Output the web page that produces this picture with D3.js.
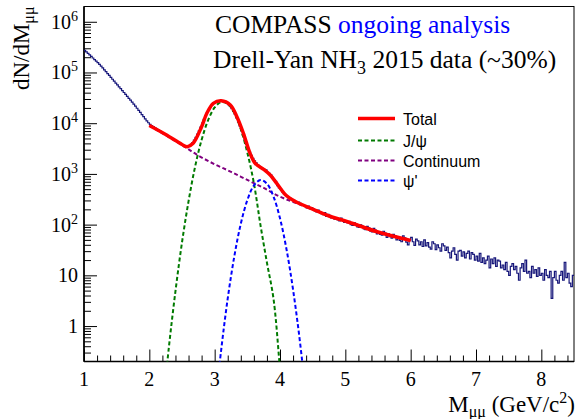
<!DOCTYPE html>
<html lang="en">
<head>
<meta charset="utf-8">
<title>COMPASS Drell-Yan dimuon mass</title>
<script src="https://cdnjs.cloudflare.com/ajax/libs/d3/7.8.5/d3.min.js"></script>
<style>
  body { margin: 0; background: #fff; }
  svg { display: block; }
  .serif { font-family: "Liberation Serif", "Times New Roman", serif; }
  .sans { font-family: "Liberation Sans", Arial, sans-serif; }
</style>
</head>
<body>
<script>
// data histogram, 0.025 GeV bins from 1 GeV
var binStart = 1.0;
var binWidth = 0.025;
var counts = [
  // 1.0 - 2.0
  274000, 255000, 238000, 222000, 207000, 193000, 179000, 167000, 156000, 145000,
  134000, 123000, 113000, 104000, 95300, 87300, 80200, 73500, 67500, 61900,
  56800, 52100, 47900, 43900, 40300, 36900, 33900, 31000, 28500, 26100,
  23800, 21700, 19700, 17900, 16300, 14800, 13500, 12200, 11100, 10200,
  // 2.0 - 3.0
  9520, 8970, 8550, 8160, 7770, 7410, 7060, 6750, 6430, 6140,
  5850, 5580, 5350, 5110, 4880, 4660, 4460, 4260, 4070, 3900,
  3740, 3610, 3500, 3510, 3620, 3830, 4150, 4620, 5270, 6080,
  7100, 8410, 10100, 11950, 14000, 16300, 18600, 20900, 22900, 24600,
  // 3.0 - 4.0
  25800, 26800, 27500, 27700, 27400, 26900, 26100, 24900, 23300, 21500,
  19400, 17100, 14900, 12700, 10600, 8730, 7140, 5810, 4690, 3840,
  3190, 2700, 2310, 2020, 1800, 1660, 1510, 1410, 1300, 1270,
  1230, 1200, 1070, 1030, 960, 857, 773, 710, 590, 530,
  // 4.0 - 5.0
  500, 440, 410, 385, 360, 335, 330, 312, 300, 281,
  268, 279, 262, 240, 245, 236, 214, 232, 205, 216,
  204, 186, 178, 194, 180, 164, 158, 172, 146, 160,
  152, 136, 144, 128, 138, 124, 118, 134, 126, 110,
  // 5.0 - 6.0
  120, 108, 116, 100, 96, 110, 104, 90, 88, 99,
  94, 82, 80, 92, 86, 74, 72, 84, 78, 66,
  73, 64, 62, 74, 68, 56, 66, 58, 54, 64,
  60, 50, 58, 49, 46, 60, 55, 45, 40, 50,
  // 6.0 - 7.0
  56, 46, 39, 52, 48, 40, 46, 37, 50, 38,
  44, 36, 33, 46, 42, 32, 40, 35, 30, 42,
  38, 31, 36, 28, 22, 30, 35, 26, 20, 30,
  31, 24, 29, 22, 27, 30, 21, 28, 26, 20,
  // 7.0 - 8.0
  24, 19, 27, 18, 22, 17, 20, 24, 14, 21,
  17, 22, 15, 20, 19, 14, 16, 13, 18, 12,
  10, 15, 17, 13, 15, 11, 8, 14, 17, 12,
  20, 11, 12, 9, 15, 11, 13, 9.5, 14, 10,
  // 8.0 - 8.5
  11, 8, 13, 10, 9, 12, 3.5, 9, 12, 8,
  7, 10, 12, 8, 18, 9, 11, 7, 6, 10
];

// fit components
var totalX = [2.0, 2.25, 2.5, 2.58, 2.67, 2.8, 2.88, 2.98, 3.1, 3.24, 3.34, 3.44, 3.54, 3.62, 3.75, 3.85, 3.95, 4.1, 4.25, 4.5, 4.75, 5.0, 5.5, 6.0];
var totalY = [9000, 5990, 3800, 3430, 4010, 8530, 15700, 24700, 27700, 22900, 13400, 6320, 2570, 1620, 1230, 950, 653, 370, 279, 203, 148, 118, 71.4, 48.6];

var jpsiX = [2.2, 2.3, 2.4, 2.5, 2.6, 2.7, 2.8, 2.9, 3.0, 3.1, 3.2, 3.3, 3.4, 3.5, 3.6, 3.7, 3.8, 3.9, 4.0, 4.1];
var jpsiY = [0.022, 0.39, 4.9, 44.7, 288, 1380, 4680, 11500, 20400, 26100, 24000, 15900, 7600, 2630, 661, 100, 17.8, 3.5, 0.14, 0.004];

var contX = [2.0, 2.25, 2.5, 2.75, 3.0, 3.25, 3.5, 3.75, 4.0, 4.25, 4.5, 4.75, 5.0, 5.5, 6.0];
var contY = [9000, 5800, 3700, 2300, 1550, 1100, 760, 530, 355, 265, 200, 147, 117, 71, 48.5];

var psi2X = [3.0, 3.1, 3.2, 3.3, 3.4, 3.5, 3.6, 3.7, 3.8, 3.9, 4.0, 4.1, 4.2, 4.3, 4.4];
var psi2Y = [0.022, 0.34, 3.5, 23.4, 104, 304, 590, 758, 641, 359, 133, 32.4, 5.2, 0.56, 0.04];

var xMajor = [1, 2, 3, 4, 5, 6, 7, 8];
var yMajor = [1, 10, 100, 1e3, 1e4, 1e5, 1e6];
var yLabels = ["1", "10", "10|2", "10|3", "10|4", "10|5", "10|6"];

var legendNames = ["Total", "J/\u03c8", "Continuum", "\u03c8'"];
var legendColors = ["#ff0000", "#007a00", "#800080", "#0000ff"];

// frame
var w = 576, h = 419;
var padL = 84, padR = 574, padT = 6.5, padB = 361.5;

var x = d3.scaleLinear().domain([1, 8.5]).range([padL, padR]);
var y = d3.scaleLog().domain([0.2, 2e6]).range([padB, padT]);

var svg = d3.select("body").append("svg")
    .attr("width", w)
    .attr("height", h);

svg.append("defs").append("clipPath")
    .attr("id", "plotclip")
  .append("rect")
    .attr("x", padL).attr("y", padT)
    .attr("width", padR - padL).attr("height", padB - padT);

// frame box
svg.append("rect")
    .attr("x", padL).attr("y", padT)
    .attr("width", padR - padL).attr("height", padB - padT)
    .attr("fill", "none")
    .attr("stroke", "#000")
    .attr("stroke-width", 1);

// ticks (drawn inward, ROOT style)
var xMinor = d3.range(1.2, 8.5, 0.2).filter(function(v) {
    return Math.abs(v - Math.round(v)) > 0.01;
});
var yMinor = [];
[-1, 0, 1, 2, 3, 4, 5].forEach(function(p) {
    for (var k = 2; k <= 9; k++) {
        var v = k * Math.pow(10, p);
        if (v > 0.21 && v < 1.9e6) yMinor.push(v);
    }
});

function tickGroup(axis) {
    var g = svg.append("g").call(axis);
    g.select(".domain").remove();
    g.selectAll("line").attr("stroke", "#000").attr("stroke-width", 1);
    return g;
}

tickGroup(d3.axisBottom(x).tickValues(xMajor).tickSize(-12).tickFormat(""))
    .attr("transform", "translate(0," + padB + ")");
tickGroup(d3.axisBottom(x).tickValues(xMinor).tickSize(-6).tickFormat(""))
    .attr("transform", "translate(0," + padB + ")");
tickGroup(d3.axisLeft(y).tickValues(yMajor).tickSize(-13).tickFormat(""))
    .attr("transform", "translate(" + padL + ",0)");
tickGroup(d3.axisLeft(y).tickValues(yMinor).tickSize(-7).tickFormat(""))
    .attr("transform", "translate(" + padL + ",0)");

// axis lines
svg.append("line").attr("x1", padL).attr("x2", padL).attr("y1", padT).attr("y2", padB)
    .attr("stroke", "#000").attr("stroke-width", 1.6);
svg.append("line").attr("x1", padL).attr("x2", padR).attr("y1", padB).attr("y2", padB)
    .attr("stroke", "#000").attr("stroke-width", 1.6);

// tick labels
svg.selectAll(".xlab")
    .data(xMajor)
  .enter().append("text")
    .attr("class", "serif")
    .attr("x", function(d) { return x(d); })
    .attr("y", 386)
    .attr("text-anchor", "middle")
    .attr("font-size", 20)
    .text(function(d) { return d; });

yMajor.forEach(function(v, i) {
    var parts = yLabels[i].split("|");
    var t = svg.append("text")
        .attr("class", "serif")
        .attr("x", 78)
        .attr("y", y(v) + 7)
        .attr("text-anchor", "end")
        .attr("font-size", 20);
    t.append("tspan").text(parts[0]);
    if (parts.length > 1) {
        t.append("tspan").attr("dy", -8).attr("font-size", 14).text(parts[1]);
    }
});

// axis titles
var yt = svg.append("text")
    .attr("class", "serif")
    .attr("transform", "translate(29," + padT + ") rotate(-90)")
    .attr("text-anchor", "end")
    .attr("font-size", 23);
yt.append("tspan").text("dN/dM");
yt.append("tspan").attr("dy", 5).attr("font-size", 16).text("\u03bc\u03bc");

var xt = svg.append("text")
    .attr("class", "serif")
    .attr("x", 575)
    .attr("y", 412)
    .attr("text-anchor", "end")
    .attr("font-size", 23);
xt.append("tspan").text("M");
xt.append("tspan").attr("dy", 5).attr("font-size", 16).text("\u03bc\u03bc");
xt.append("tspan").attr("dy", -5).text(" (GeV/c");
xt.append("tspan").attr("dy", -9).attr("font-size", 16).text("2");
xt.append("tspan").attr("dy", 9).text(")");

// plotted series
var plot = svg.append("g").attr("clip-path", "url(#plotclip)");

var histPts = [];
counts.forEach(function(c, i) {
    var x0 = binStart + i * binWidth;
    histPts.push([x0, c], [x0 + binWidth, c]);
});

var stepLine = d3.line()
    .x(function(d) { return x(d[0]); })
    .y(function(d) { return y(d[1]); });

plot.append("path")
    .datum(histPts)
    .attr("d", stepLine)
    .attr("fill", "none")
    .attr("stroke", "#16167a")
    .attr("stroke-width", 1.2);

var curve = d3.line()
    .curve(d3.curveCatmullRom.alpha(0.5))
    .x(function(d) { return x(d[0]); })
    .y(function(d) { return y(d[1]); });

function drawCurve(xs, ys, color, width, dash) {
    var pts = xs.map(function(v, i) { return [v, ys[i]]; });
    var p = plot.append("path")
        .datum(pts)
        .attr("d", curve)
        .attr("fill", "none")
        .attr("stroke", color)
        .attr("stroke-width", width);
    if (dash) p.attr("stroke-dasharray", dash);
}

drawCurve(jpsiX, jpsiY, legendColors[1], 2, "4,2.5");
drawCurve(contX, contY, legendColors[2], 2, "4,2.5");
drawCurve(psi2X, psi2Y, legendColors[3], 2, "4,2.5");
drawCurve(totalX, totalY, legendColors[0], 3.5, null);

// title text
var t1 = svg.append("text")
    .attr("class", "serif")
    .attr("x", 215)
    .attr("y", 33)
    .attr("font-size", 25.5);
t1.append("tspan").text("COMPASS ");
t1.append("tspan").attr("fill", "#0000ff").text("ongoing analysis");

var t2 = svg.append("text")
    .attr("class", "serif")
    .attr("x", 213)
    .attr("y", 68)
    .attr("font-size", 25.5);
t2.append("tspan").text("Drell-Yan NH");
t2.append("tspan").attr("dy", 6).attr("font-size", 18).text("3");
t2.append("tspan").attr("dy", -6).text(" 2015 data (~30%)");

// legend
var legY = [118.5, 140.5, 160.5, 180.5];
legendNames.forEach(function(name, i) {
    var ln = svg.append("line")
        .attr("x1", 358).attr("x2", 395)
        .attr("y1", legY[i]).attr("y2", legY[i])
        .attr("stroke", legendColors[i])
        .attr("stroke-width", i === 0 ? 3.5 : 2);
    if (i > 0) ln.attr("stroke-dasharray", "4,2.5");
    svg.append("text")
        .attr("class", "sans")
        .attr("x", 403)
        .attr("y", legY[i] + 6)
        .attr("font-size", 16)
        .text(name);
});
</script>
</body>
</html>
